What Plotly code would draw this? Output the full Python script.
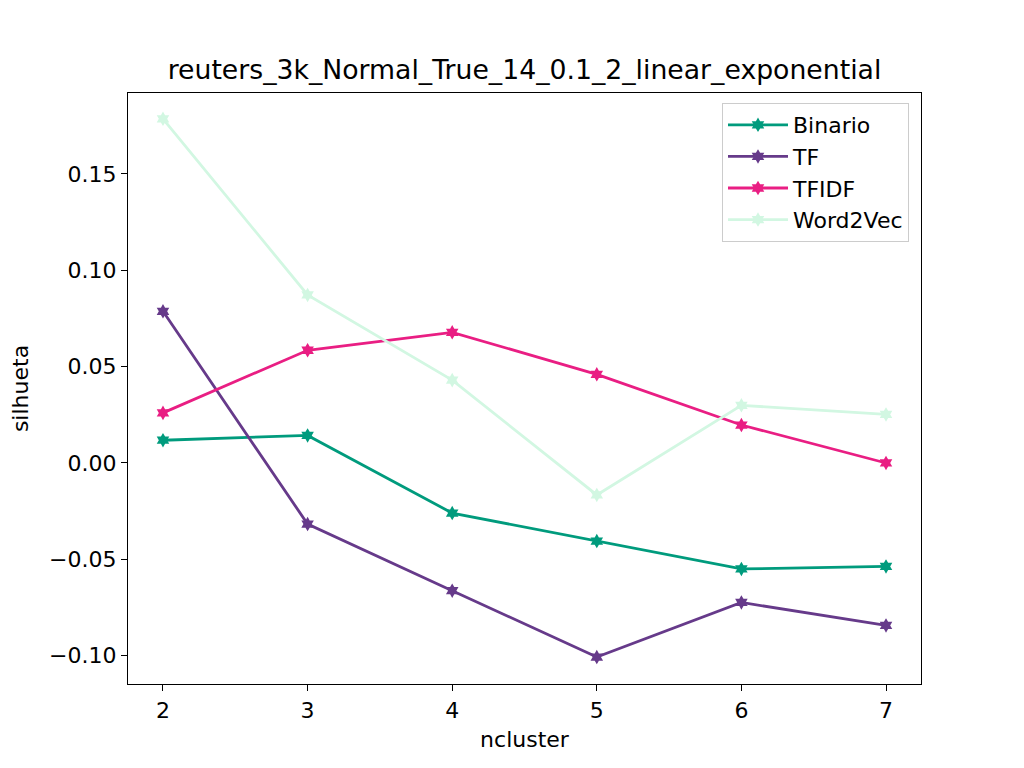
import plotly.graph_objects as go

ncluster = [2, 3, 4, 5, 6, 7]
binario = [0.0118, 0.0143, -0.0260, -0.0405, -0.0550, -0.0537]
tf = [0.0787, -0.0317, -0.0663, -0.1007, -0.0724, -0.0843]
tfidf = [0.0260, 0.0585, 0.0678, 0.0460, 0.0197, 0.0000]
word2vec = [0.1786, 0.0872, 0.0430, -0.0166, 0.0299, 0.0252]

series_names = ["Binario", "TF", "TFIDF", "Word2Vec"]
series_values = [binario, tf, tfidf, word2vec]
colors = ["#009B7D", "#663A8A", "#E91E83", "#D2F7E2"]

y_ticks = [-0.10, -0.05, 0.00, 0.05, 0.10, 0.15]
y_tick_labels = ["\u22120.10", "\u22120.05", "0.00", "0.05", "0.10", "0.15"]
x_ticks = [2, 3, 4, 5, 6, 7]

fig = go.Figure()
for name, vals, col in zip(series_names, series_values, colors):
    fig.add_trace(go.Scatter(
        x=ncluster, y=vals, name=name, mode="lines+markers",
        line=dict(color=col, width=2.8),
        marker=dict(symbol="hexagram", size=11, color=col),
    ))

font = "DejaVu Sans"
# page body has an 8px margin, so the figure is drawn offset by (8, 8)
fig.update_layout(
    width=1024, height=768,
    margin=dict(l=120, r=111, t=85, b=92),
    paper_bgcolor="white", plot_bgcolor="white",
    font=dict(family=font, size=22, color="black"),
    title=dict(text="reuters_3k_Normal_True_14_0.1_2_linear_exponential",
               x=(120 + 913) / 2 / 1024, xanchor="center",
               y=1 - 62 / 768, yanchor="middle",
               font=dict(family=font, size=26.7, color="black")),
    showlegend=True,
    legend=dict(x=1 - 12 / 793, y=1 - 10 / 591, xanchor="right", yanchor="top",
                bgcolor="rgba(255,255,255,0.8)", bordercolor="#cccccc", borderwidth=1,
                font=dict(family=font, size=22), tracegroupgap=0,
                itemwidth=60),
)
fig.update_xaxes(
    range=[1.758, 7.242], tickvals=x_ticks, ticks="outside", ticklen=6, tickwidth=1.3,
    tickcolor="black", showline=True, linecolor="black", linewidth=1.3, mirror=True,
    showgrid=False, zeroline=False,
    title=dict(text="ncluster", font=dict(family=font, size=22), standoff=10),
)
fig.update_yaxes(
    range=[-0.1147, 0.192], tickvals=y_ticks, ticktext=y_tick_labels, ticks="outside",
    ticklen=6, tickwidth=1.3, tickcolor="black", showline=True, linecolor="black",
    linewidth=1.3, mirror=True, showgrid=False, zeroline=False,
    title=dict(text="silhueta", font=dict(family=font, size=22), standoff=15),
)

fig.write_html("out.html")
